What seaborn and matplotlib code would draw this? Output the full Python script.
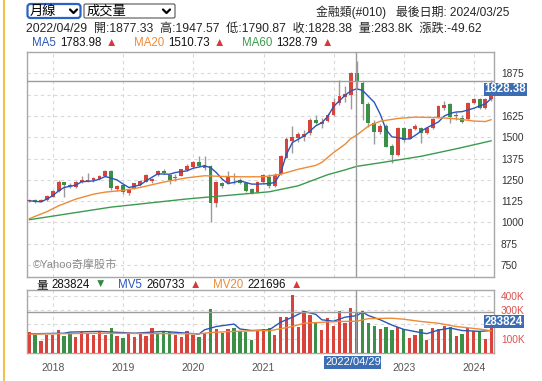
import numpy as np
import pandas as pd
import matplotlib
matplotlib.use('Agg')
import matplotlib.pyplot as plt
from matplotlib.patches import FancyBboxPatch, Rectangle
from matplotlib.lines import Line2D
import seaborn as sns

# ---- data (monthly candles, Aug 2017 .. Mar 2024) ----
months = pd.date_range('2017-08-31', periods=80, freq='ME')

opens = [1125, 1133, 1122, 1130, 1152, 1182, 1235, 1222, 1210, 1238, 1246, 1250, 1256, 1270,
         1303, 1195, 1219, 1172, 1200, 1218, 1240, 1244, 1278, 1304, 1277, 1262, 1274, 1305,
         1328, 1356, 1322, 1332, 1113, 1232, 1230, 1262, 1250, 1234, 1195, 1176, 1238, 1268,
         1215, 1283, 1381, 1479, 1498, 1502, 1522, 1600, 1580, 1596, 1631, 1703, 1737, 1748,
         1877.33, 1820, 1697, 1586, 1533, 1567, 1449, 1397, 1557, 1492, 1548, 1557, 1527, 1557,
         1615, 1670, 1693, 1622, 1615, 1605, 1703, 1723, 1674, 1723]
highs = [1138, 1138, 1135, 1162, 1192, 1248, 1240, 1232, 1242, 1270, 1289, 1268, 1280, 1306,
         1306, 1218, 1224, 1198, 1232, 1250, 1282, 1262, 1305, 1312, 1282, 1285, 1316, 1345,
         1360, 1391, 1391, 1340, 1245, 1240, 1299, 1293, 1262, 1240, 1200, 1245, 1282, 1285,
         1290, 1398, 1500, 1567, 1530, 1545, 1610, 1631, 1612, 1640, 1730, 1834, 1800, 1885,
         1947.57, 1830, 1705, 1600, 1575, 1580, 1460, 1560, 1562, 1552, 1575, 1562, 1562, 1610,
         1690, 1712, 1700, 1650, 1630, 1708, 1733, 1728, 1730, 1835]
lows = [1118, 1115, 1118, 1125, 1148, 1176, 1152, 1205, 1205, 1232, 1240, 1240, 1250, 1265,
        1188, 1185, 1168, 1160, 1196, 1212, 1236, 1232, 1270, 1285, 1226, 1245, 1270, 1300,
        1322, 1325, 1310, 1004, 1090, 1205, 1225, 1225, 1228, 1180, 1165, 1170, 1232, 1205,
        1210, 1278, 1378, 1410, 1470, 1480, 1515, 1575, 1555, 1590, 1625, 1690, 1705, 1664,
        1790.87, 1600, 1560, 1463, 1520, 1440, 1346, 1390, 1470, 1488, 1540, 1469, 1520, 1550,
        1610, 1660, 1586, 1600, 1585, 1600, 1695, 1665, 1668, 1715]
closes = [1132, 1122, 1130, 1156, 1186, 1235, 1218, 1215, 1238, 1250, 1252, 1260, 1274, 1301,
          1201, 1211, 1180, 1195, 1229, 1246, 1277, 1256, 1300, 1290, 1250, 1265, 1312, 1332,
          1356, 1332, 1336, 1113, 1238, 1215, 1270, 1258, 1234, 1186, 1172, 1238, 1277, 1215,
          1279, 1391, 1488, 1502, 1518, 1520, 1600, 1584, 1592, 1631, 1707, 1743, 1752, 1878,
          1828.38, 1693, 1582, 1533, 1567, 1444, 1397, 1553, 1482, 1548, 1567, 1527, 1557, 1605,
          1684, 1690, 1621, 1628, 1590, 1703, 1723, 1674, 1723, 1790]

volumes = [144, 123, 81, 128, 128, 162, 116, 140, 112, 144, 134, 128, 151, 128,
           174, 121, 105, 134, 110, 134, 121, 174, 140, 146, 144, 123, 112, 155,
           128, 112, 140, 306, 167, 140, 167, 178, 155, 146, 93, 155, 167, 174,
           128, 251, 251, 405, 185, 294, 267, 209, 162, 244, 192, 294, 213, 313,
           283.824, 294, 213, 190, 167, 181, 158, 185, 167, 105, 128, 167, 93, 174,
           167, 190, 181, 121, 134, 174, 155, 145, 95, 200]
vol_up = [1, 0, 1, 1, 1, 1, 0, 0, 1, 1, 1, 1, 1, 1, 0, 1, 0, 1, 1, 1, 1, 1, 0, 0, 0, 1, 1, 1,
          1, 0, 1, 0, 1, 0, 1, 0, 0, 0, 0, 1, 1, 0, 1, 1, 1, 1, 1, 1, 1, 0, 1, 1, 1, 1, 1, 1,
          0, 0, 0, 0, 1, 0, 0, 1, 0, 1, 1, 0, 1, 1, 1, 1, 0, 1, 0, 1, 1, 0, 1, 1]

# moving averages (bar index, value)
ma5_idx = [0, 2, 3, 4, 5, 6, 8, 9, 11, 12, 13, 15, 16, 17, 19, 20, 21, 22, 24, 25, 27, 28, 30, 31,
           32, 33, 34, 35, 36, 37, 38, 39, 41, 42, 43, 44, 45, 47, 48, 49, 50, 51, 52, 54, 55, 56,
           57, 58, 59, 60, 61, 62, 63, 64, 65, 66, 67, 68, 70, 71, 72, 73, 74, 75, 76, 77, 78, 79]
ma5_val = [1127, 1121, 1137, 1157, 1186, 1205, 1219, 1239, 1244, 1254, 1270, 1250, 1226, 1205,
           1220, 1244, 1265, 1285, 1283, 1293, 1303, 1318, 1332, 1322, 1293, 1254, 1228, 1235,
           1244, 1235, 1225, 1225, 1228, 1235, 1290, 1400, 1469, 1508, 1537, 1567, 1585, 1620,
           1680, 1745, 1772, 1784, 1775, 1740, 1705, 1635, 1545, 1502, 1498, 1490, 1490, 1510,
           1535, 1555, 1590, 1625, 1640, 1648, 1650, 1660, 1670, 1684, 1695, 1728]
ma20_idx = [0, 3, 5, 8, 11, 13, 16, 19, 22, 24, 27, 30, 33, 36, 40, 43, 46, 49, 50, 52, 54, 55,
            56, 58, 60, 63, 66, 70, 73, 76, 78, 79]
ma20_val = [1022, 1063, 1098, 1137, 1166, 1178, 1188, 1205, 1229, 1244, 1262, 1274, 1270, 1268,
            1268, 1283, 1312, 1335, 1352, 1410, 1458, 1492, 1512, 1565, 1594, 1610, 1618, 1615,
            1608, 1595, 1592, 1603]
ma60_idx = [0, 14, 27, 41, 46, 51, 54, 56, 60, 67, 73, 79]
ma60_val = [1016, 1090, 1138, 1180, 1215, 1280, 1308, 1329, 1350, 1388, 1432, 1479]

mv5_idx = [0, 6, 7, 12, 18, 23, 29, 30, 32, 35, 36, 38, 41, 43, 45, 47, 49, 50, 52, 54, 56, 57,
           58, 60, 62, 64, 66, 68, 70, 72, 74, 77, 79]
mv5_val = [134, 138, 146, 151, 138, 151, 132, 162, 185, 202, 168, 157, 162, 215, 250, 290, 270,
           232, 222, 250, 261, 285, 262, 232, 195, 165, 150, 135, 160, 174, 157, 151, 157]
mv20_idx = [0, 12, 29, 31, 35, 40, 41, 45, 47, 53, 56, 58, 62, 64, 67, 70, 73, 77, 79]
mv20_val = [132, 138, 134, 143, 151, 157, 155, 185, 208, 220, 222, 240, 243, 236, 220, 208,
            185, 167, 155]

# tick labels hidden behind the value boxes are left blank, as in the source
price_ticks = [750, 875, 1000, 1125, 1250, 1375, 1500, 1625, 1750, 1875]
price_tick_labels = ['750', '875', '1000', '1125', '1250', '1375', '1500', '1625', '', '1875']
vol_ticks = [100, 200, 300, 400]
vol_tick_labels = ['100K', '', '300K', '400K']
years = [2018, 2019, 2020, 2021, 2022, 2023, 2024]
year_labels = ['2018', '2019', '2020', '2021', '', '2023', '2024']
cross_date = pd.Timestamp('2022-04-29')
cross_close = 1828.38
cross_vol = 283.824

RED = '#d8443c'
GREEN = '#3b8f47'
BLUE = '#2a56b8'
ORANGE = '#ef8a36'
MGREEN = '#3c9a4e'
BOXBLUE = '#3a6db4'
GRID = '#d9d9d9'

sns.set_style('white')
plt.rcParams['font.family'] = ['Liberation Sans', 'Noto Sans CJK TC', 'DejaVu Sans']

W, H = 542, 381
fig = plt.figure(figsize=(W / 100, H / 100), dpi=100)


def px_rect(x0, y0, x1, y1):
    return [x0 / W, 1 - y1 / H, (x1 - x0) / W, (y1 - y0) / H]


ax = fig.add_axes(px_rect(27, 52, 494, 277))
axv = fig.add_axes(px_rect(27, 290, 494, 353))

xmin, xmax = pd.Timestamp('2017-08-19'), pd.Timestamp('2024-04-14')
year_dates = [pd.Timestamp(f'{y}-01-01') for y in years]

# ---- candles ----
up = [c >= o for o, c in zip(opens, closes)]
cols = [RED if u else GREEN for u in up]
ax.vlines(months, lows, highs, color='#9a9a9a', lw=1, zorder=2)
bottoms = [min(o, c) for o, c in zip(opens, closes)]
heights = [max(abs(c - o), 3) for o, c in zip(opens, closes)]
ax.bar(months, heights, bottom=bottoms, width=20, color=cols, zorder=3, lw=0)

for idx, val, col in [(ma5_idx, ma5_val, BLUE), (ma20_idx, ma20_val, ORANGE),
                      (ma60_idx, ma60_val, MGREEN)]:
    d = pd.DataFrame({'date': months[idx], 'val': val})
    sns.lineplot(data=d, x='date', y='val', ax=ax, color=col, lw=1.0, zorder=4)

ax.axvline(cross_date, color='#9c9c9c', lw=1, zorder=5)
ax.axhline(cross_close, color='#9c9c9c', lw=1, zorder=5)

ax.set_xlim(xmin, xmax)
ax.set_ylim(680, 2000)
ax.set_yticks(price_ticks)
ax.set_yticklabels(price_tick_labels)
ax.set_xticks(year_dates)
ax.yaxis.tick_right()
ax.tick_params(axis='y', length=0, pad=5, labelsize=7.3, labelcolor='#333333')
ax.tick_params(axis='x', length=0, labelbottom=False)
ax.grid(True, color=GRID, lw=0.8, linestyle=(0, (3, 3)))
ax.set_xlabel('')
ax.set_ylabel('')
for s in ax.spines.values():
    s.set_color('#a8a8a8')
    s.set_linewidth(1)
ax.text(0.012, 0.03, '©Yahoo奇摩股市', transform=ax.transAxes, fontsize=8,
        color='#8a8a8a', va='bottom', ha='left')

# ---- volume ----
vcols = [RED if u else GREEN for u in vol_up]
axv.bar(months, volumes, width=17, color=vcols, lw=0, zorder=3)
for idx, val, col in [(mv5_idx, mv5_val, BLUE), (mv20_idx, mv20_val, ORANGE)]:
    d = pd.DataFrame({'date': months[idx], 'val': val})
    sns.lineplot(data=d, x='date', y='val', ax=axv, color=col, lw=1.0, zorder=4)
axv.axvline(cross_date, color='#9c9c9c', lw=1, zorder=5)
axv.axhline(cross_vol, color='#9c9c9c', lw=1, zorder=5)
axv.set_xlim(xmin, xmax)
axv.set_ylim(0, 440)
axv.set_yticks(vol_ticks)
axv.set_yticklabels(vol_tick_labels)
axv.set_xticks(year_dates)
axv.set_xticklabels(year_labels)
axv.yaxis.tick_right()
axv.tick_params(axis='y', length=0, pad=5, labelsize=7.3, labelcolor='#d9534f')
axv.tick_params(axis='x', length=0, pad=7, labelsize=7.5, labelcolor='#555555')
axv.grid(True, color=GRID, lw=0.8, linestyle=(0, (3, 3)))
axv.set_xlabel('')
axv.set_ylabel('')
for s in axv.spines.values():
    s.set_color('#a8a8a8')
    s.set_linewidth(1)

# ---- overlay in pixel coordinates ----
ov = fig.add_axes([0, 0, 1, 1], zorder=10)
ov.set_xlim(0, W)
ov.set_ylim(H, 0)
ov.axis('off')
ov.patch.set_alpha(0)

ov.plot([4, 4], [0, H], color='#f2c14e', lw=1.5)

# dropdowns
ov.add_patch(FancyBboxPatch((27.5, 4), 53, 14, boxstyle='round,pad=0,rounding_size=3',
                            fc='white', ec='#2b62c5', lw=1.6))
ov.add_patch(FancyBboxPatch((84, 4), 91, 14, boxstyle='round,pad=0,rounding_size=1.5',
                            fc='white', ec='#555555', lw=0.8))
ov.text(30, 11.5, '月線', fontsize=9.5, va='center', ha='left', color='black')
ov.text(87, 11.5, '成交量', fontsize=9.5, va='center', ha='left', color='black')
for cx in (73.5, 166.5):
    ov.add_line(Line2D([cx - 3.5, cx, cx + 3.5], [9.5, 13, 9.5], color='black', lw=1.6))

ov.text(316, 12, '金融類(#010)   最後日期: 2024/03/25', fontsize=8.6, va='center', ha='left')
ov.text(26, 28.5, '2022/04/29  開:1877.33  高:1947.57  低:1790.87  收:1828.38  量:283.8K  漲跌:-49.62',
        fontsize=8.7, va='center', ha='left')

r = fig.canvas.get_renderer()


def rich_row(x, y, parts, size):
    for s, col, gap in parts:
        t = ov.text(x, y, s, fontsize=size, color=col, va='center', ha='left')
        x += t.get_window_extent(r).width + gap


rich_row(32, 43.5, [('MA5', BLUE, 4), ('1783.98', '#111111', 4), ('▲', '#d9383a', 17),
                    ('MA20', ORANGE, 4), ('1510.73', '#111111', 4), ('▲', '#d9383a', 17),
                    ('MA60', MGREEN, 4), ('1328.79', '#111111', 4), ('▲', '#d9383a', 0)], 8.3)
rich_row(36, 285, [('量', '#111111', 4), ('283824', '#111111', 5), ('▼', '#2e8b3e', 12),
                   ('MV5', BLUE, 4), ('260733', '#111111', 5), ('▲', '#d9383a', 12),
                   ('MV20', ORANGE, 4), ('221696', '#111111', 5), ('▲', '#d9383a', 0)], 8.3)


def to_px(axis, x, y):
    dx, dy = axis.transData.transform((matplotlib.dates.date2num(x), y))
    return dx, H - dy


# value boxes
_, py = to_px(ax, cross_date, cross_close)
ov.add_patch(Rectangle((484, py + 1.5), 43, 13, fc=BOXBLUE, ec='none'))
ov.text(505.5, py + 8.2, '1828.38', fontsize=8.3, color='white', fontweight='bold',
        ha='center', va='center')
_, vy = to_px(axv, cross_date, cross_vol)
ov.add_patch(Rectangle((484, vy + 2.5), 40, 13, fc=BOXBLUE, ec='none'))
ov.text(504, vy + 9.2, '283824', fontsize=8.3, color='white', fontweight='bold',
        ha='center', va='center')
cx, _ = to_px(axv, cross_date, 0)
ov.add_patch(Rectangle((cx - 32, 355.5), 57, 13, fc=BOXBLUE, ec='none'))
ov.text(cx - 3.5, 362, '2022/04/29', fontsize=8.0, color='white', ha='center', va='center')

fig.savefig('out.png', dpi=100, facecolor='white')
